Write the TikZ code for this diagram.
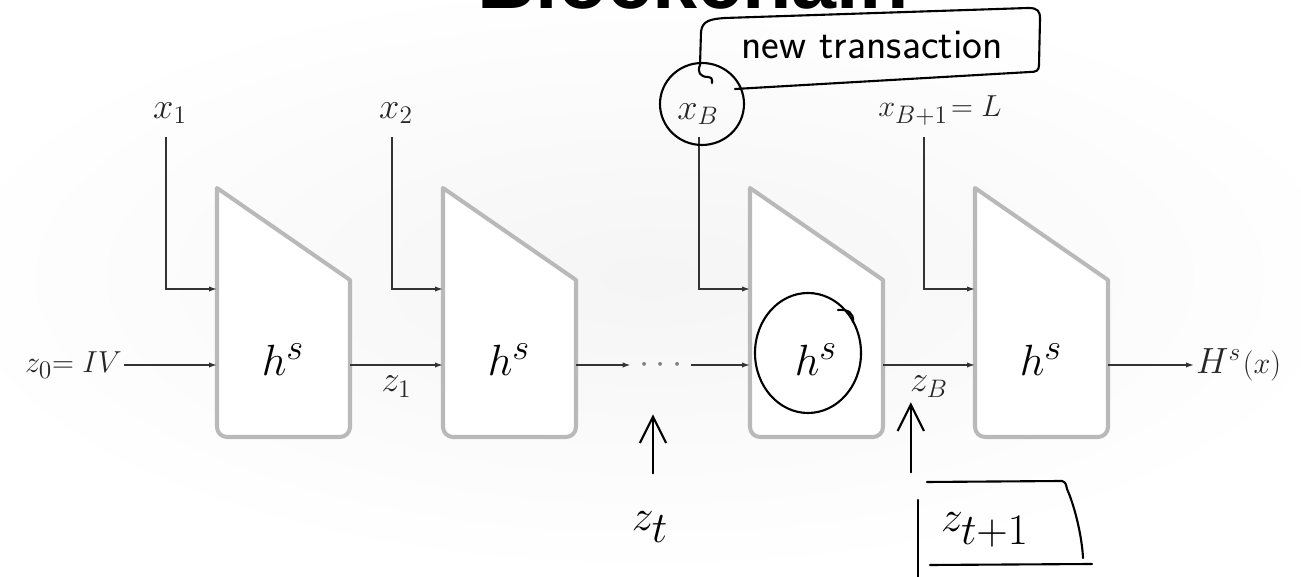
\documentclass[tikz,border=0pt]{standalone}
\usepackage{fontspec}
\newfontfamily\titlefont{Liberation Sans}
\usetikzlibrary{arrows.meta, positioning}

\begin{document}
\begin{tikzpicture}[
    x=0.02cm, y=0.02cm,
    block/.style={draw=gray!55, line width=2.3pt, fill=white, line join=round},
    line/.style={-{Latex[length=4.5pt, width=3pt]}, line width=0.8pt, draw=black!80},
    lbl/.style={inner sep=1pt, text=black!85, font=\fontsize{21}{24}\selectfont},
    hand/.style={line width=1.2pt, line cap=round, line join=round},
    handarrow/.style={hand, -{Straight Barb[length=15pt, width=15pt, line width=1.2pt]}},
    handtext/.style={inner sep=0pt, font=\fontsize{34}{36}\selectfont}
]
\useasboundingbox (0,0) rectangle (1301,577);
\fill[white] (0,0) rectangle (1301,577);
\shade[inner color=gray!8, outer color=white] (650,300) ellipse [x radius=720, y radius=300];

% Title
\node[anchor=base, font=\titlefont\bfseries\fontsize{46}{50}\selectfont] (title) at (693,568) {Blockchain};

% Compression blocks
\foreach \i/\bx in {1/217, 2/443, 3/750, 4/975} {
  \draw[block] (\bx,389) -- (\bx+133,297) -- (\bx+133,150)
    arc[start angle=0, end angle=-90, radius=10] -- (\bx+10,140)
    arc[start angle=270, end angle=180, radius=10] -- cycle;
  \node[font=\fontsize{28}{30}\selectfont] (h\i) at (\bx+66,217) {$h^s$};
  \coordinate (in\i) at (\bx,212);
  \coordinate (out\i) at (\bx+133,212);
  \coordinate (msg\i) at (\bx,288);
  \coordinate (top\i) at (\bx-51,440);
}

% Message blocks
\node[lbl] (x1) at (170,464) {$x_1$};
\node[lbl] (x2) at (396,464) {$x_2$};
\node[lbl] (xB) at (698,463) {$x_B$};
\node[lbl, font=\fontsize{19}{22}\selectfont] (xL) at (940,466) {$x_{B+1}\!=L$};
\foreach \i in {1,...,4} \draw[line] (top\i) |- (msg\i);

% Chaining values
\node[lbl, anchor=east, font=\fontsize{19}{22}\selectfont] (z0) at (124,212) {$z_0{=}\;IV$};
\node[lbl, text=gray, font=\fontsize{20}{22}\selectfont, inner sep=5pt] (dots) at (661,212) {$\cdots$};
\node[lbl, anchor=west, font=\fontsize{22}{24}\selectfont] (hout) at (1194,212) {$H^s$\kern1pt{\fontsize{17}{19}\selectfont$(x)$}};

\draw[line] (z0) -- (in1);
\draw[line] (out1) -- node[lbl, below=5pt] (z1) {$z_1$} (in2);
\draw[line] (out2) -- (dots);
\draw[line] (dots) -- (in3);
\draw[line] (out3) -- node[lbl, below=5pt] (zB) {$z_B$} (in4);
\draw[line] (out4) -- (hout);

% Hand notes
\draw[hand] (702,473) ellipse [x radius=42, y radius=41];
\node[inner sep=0pt, font=\sffamily\fontsize{24}{26}\selectfont] (note) at (872,532) {new transaction};
\draw[hand] (700,512) -- (701,545) .. controls (702,556) and (710,558) .. (725,559)
  -- (1028,569) .. controls (1038,569) and (1040,566) .. (1040,558)
  -- (1039,512) .. controls (1039,506) and (1036,505) .. (1030,505) -- (735,488);
\draw[hand] (700,512) .. controls (697,505) and (700,500) .. (708,500) .. controls (712,499) .. (712,494);

\draw[hand] (808,224) ellipse [x radius=53, y radius=60];
\draw[hand] (838,267) .. controls (848,268) and (854,264) .. (853,255);

\node[handtext] (zt) at (650,50) {$z_t$};
\draw[handarrow] (zt.north) ++(3,38) -- ++(0,59);

\node[handtext] (zt1) at (985,47) {$z_{t+1}$};
\draw[handarrow] (zt1.north west) ++(-30,40) -- ++(0,70);
\draw[hand] (918,77) -- (918,0);
\draw[hand] (927,95) -- (1062,96) .. controls (1066,95) and (1066,92) .. (1067,88)
  .. controls (1075,70) and (1082,40) .. (1083,19);
\draw[hand] (930,12) -- (1092,13);

\end{tikzpicture}
\end{document}
